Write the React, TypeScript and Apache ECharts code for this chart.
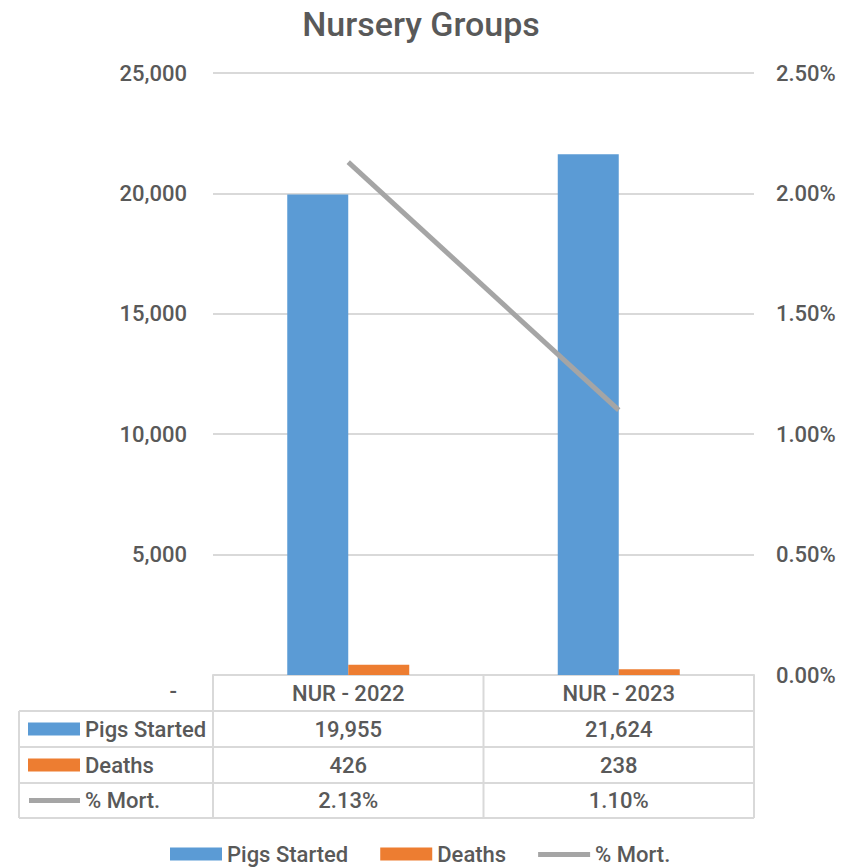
import React, { useEffect, useRef } from "react";
import * as echarts from "echarts";

const categories = ["NUR - 2022", "NUR - 2023"];
const pigsStarted = [19955, 21624];
const deaths = [426, 238];
const mortality = [0.0213, 0.011];
const seriesNames = ["Pigs Started", "Deaths", "% Mort."];
const leftTicks = { min: 0, max: 25000, interval: 5000 };
const rightTicks = { min: 0, max: 0.025, interval: 0.005 };

const FONT = "Roboto, 'Liberation Sans', Arial, sans-serif";
const FW = 500;
const TEXT = "#595959";
const BORDER = "#D9D9D9";
const COLORS = ["#5B9BD5", "#ED7D31", "#A5A5A5"];

const W = 853;
const H = 867;
const GRID_L = 213;
const GRID_R = 754;
const GRID_T = 73;
const GRID_B = 675;
const TABLE_L = 19;
const ROWS_Y = [675, 711, 747, 783, 818];
const FS = 22;
const LINE_ICON = "path://M0,0L0.01,0L0,0.01Z M0,4.5H52V9.5H0Z M52,13L51.99,13L52,12.99Z";

function fmtInt(v: number) {
  return v.toLocaleString("en-US");
}
function fmtPct(v: number) {
  return (v * 100).toFixed(2) + "%";
}

export default function App() {
  const ref = useRef<HTMLDivElement>(null);
  useEffect(() => {
    if (!ref.current) return;
    const chart = echarts.init(ref.current, undefined, { renderer: "svg" });
    const colW = (GRID_R - GRID_L) / categories.length;
    const g: any[] = [];
    const line = (x1: number, y1: number, x2: number, y2: number) => ({
      type: "line",
      shape: { x1, y1, x2, y2 },
      style: { stroke: BORDER, lineWidth: 2 },
      silent: true,
    });
    for (let i = 1; i < ROWS_Y.length; i++) g.push(line(TABLE_L, ROWS_Y[i], GRID_R, ROWS_Y[i]));
    g.push(line(TABLE_L, ROWS_Y[1], TABLE_L, ROWS_Y[4]));
    for (let c = 0; c <= categories.length; c++) {
      const x = GRID_L + c * colW;
      g.push(line(x, ROWS_Y[0], x, ROWS_Y[4]));
    }
    const rows = [
      { name: seriesNames[0], vals: pigsStarted.map(fmtInt), key: "rect", color: COLORS[0] },
      { name: seriesNames[1], vals: deaths.map(fmtInt), key: "rect", color: COLORS[1] },
      { name: seriesNames[2], vals: mortality.map(fmtPct), key: "line", color: COLORS[2] },
    ];
    rows.forEach((r, i) => {
      const cy = (ROWS_Y[i + 1] + ROWS_Y[i + 2]) / 2;
      if (r.key === "rect") {
        g.push({ type: "rect", shape: { x: 28, y: cy - 6.5, width: 52, height: 13 }, style: { fill: r.color }, silent: true });
      } else {
        g.push({ type: "rect", shape: { x: 29, y: cy - 2.5, width: 51, height: 5 }, style: { fill: r.color }, silent: true });
      }
      g.push({
        type: "text",
        x: 85,
        y: cy,
        style: { text: r.name, fill: TEXT, font: `${FW} ${FS}px ${FONT}`, verticalAlign: "middle", align: "left" },
        silent: true,
      });
      r.vals.forEach((v, c) => {
        g.push({
          type: "text",
          x: GRID_L + colW * (c + 0.5),
          y: cy,
          style: { text: v, fill: TEXT, font: `${FW} ${FS}px ${FONT}`, verticalAlign: "middle", align: "center" },
          silent: true,
        });
      });
    });

    const ts = { fontSize: FS, color: TEXT, fontFamily: FONT, fontWeight: FW };

    chart.setOption({
      animation: false,
      textStyle: { fontFamily: FONT },
      title: {
        text: "Nursery Groups",
        left: 416,
        top: 2,
        textAlign: "center",
        textStyle: { fontSize: 34, fontWeight: FW, color: TEXT, fontFamily: FONT },
      },
      legend: {
        left: 170,
        top: 843,
        padding: 0,
        itemWidth: 52,
        itemHeight: 13,
        itemGap: 32,
        textStyle: ts,
        data: [
          { name: seriesNames[0], icon: "rect" },
          { name: seriesNames[1], icon: "rect" },
          { name: seriesNames[2], icon: LINE_ICON, itemStyle: { color: COLORS[2] } },
        ],
      },
      grid: { left: GRID_L, right: W - GRID_R, top: GRID_T, bottom: H - GRID_B, containLabel: false },
      xAxis: {
        type: "category",
        data: categories,
        axisLine: { show: true, lineStyle: { color: BORDER, width: 2 } },
        axisTick: { show: false },
        axisLabel: { ...ts, margin: 7 },
      },
      yAxis: [
        {
          type: "value",
          ...leftTicks,
          axisLine: { show: false },
          axisTick: { show: false },
          splitLine: { show: true, lineStyle: { color: BORDER, width: 2 } },
          axisLabel: {
            ...ts,
            margin: 26,
            formatter: (v: number) => (v === 0 ? "{z|-}" : fmtInt(v)),
            rich: { z: { ...ts, padding: [32, 10, 0, 0] } },
          },
        },
        {
          type: "value",
          ...rightTicks,
          position: "right",
          axisLine: { show: false },
          axisTick: { show: false },
          splitLine: { show: false },
          axisLabel: { ...ts, margin: 22, formatter: (v: number) => fmtPct(v) },
        },
      ],
      series: [
        {
          name: seriesNames[0],
          type: "bar",
          data: pigsStarted,
          itemStyle: { color: COLORS[0] },
          barWidth: 61,
          barGap: "0%",
        },
        {
          name: seriesNames[1],
          type: "bar",
          data: deaths,
          itemStyle: { color: COLORS[1] },
          barWidth: 61,
          barGap: "0%",
        },
        {
          name: seriesNames[2],
          type: "line",
          yAxisIndex: 1,
          data: mortality,
          symbol: "none",
          lineStyle: { color: COLORS[2], width: 5 },
          itemStyle: { color: COLORS[2] },
        },
      ],
      graphic: g,
    });
    return () => chart.dispose();
  }, []);
  return <div ref={ref} style={{ position: "absolute", left: 0, top: 0, width: W, height: H }} />;
}
